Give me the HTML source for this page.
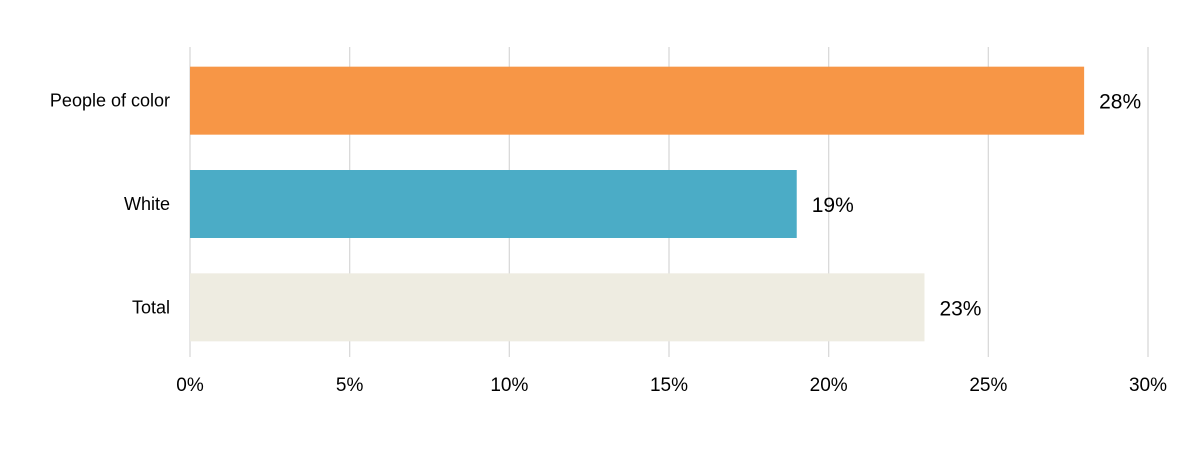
<!DOCTYPE html>
<html><head><meta charset="utf-8"><style>
html,body{margin:0;padding:0;background:#fff;}
svg{display:block;font-family:"Liberation Sans",Arial,sans-serif;}
</style></head><body>
<svg id="chart" width="1200" height="456" viewBox="0 0 1200 456"></svg>
<script>
const categories = ["People of color", "White", "Total"];
const values = [28, 19, 23];
const valueLabels = ["28%", "19%", "23%"];
const colors = ["#F79646", "#4BACC6", "#EEECE1"];
const ticks = [0, 5, 10, 15, 20, 25, 30];
const tickLabels = ["0%", "5%", "10%", "15%", "20%", "25%", "30%"];

const NS = "http://www.w3.org/2000/svg";
const svg = document.getElementById("chart");
const x0 = 190, x1 = 1148, xMax = 30;
const yTop = 47, yBot = 357;
const xs = v => x0 + (v / xMax) * (x1 - x0);
const band = (yBot - yTop) / categories.length;
const barH = 68;
const ys = i => yTop + band * i + (band - barH) / 2 + 2;

function mk(tag, attrs) {
  const e = document.createElementNS(NS, tag);
  for (const k in attrs) e.setAttribute(k, attrs[k]);
  svg.appendChild(e);
  return e;
}

ticks.forEach((t, i) => {
  const g = mk("line", {x1: xs(t), x2: xs(t), y1: yTop, y2: yBot, stroke: "#d9d9d9", "stroke-width": 1.3});
  
  
  const tx = mk("text", {x: xs(t), y: 391, "text-anchor": "middle", "font-size": 19, fill: "#000"});
  tx.textContent = tickLabels[i];
  
  
});

categories.forEach((c, i) => {
  const y = ys(i);
  const r = mk("rect", {x: xs(0), y: y, width: xs(values[i]) - xs(0), height: barH, fill: colors[i]});
  
  
  const lab = mk("text", {x: 170, y: y + barH / 2 + 6, "text-anchor": "end", "font-size": 18, fill: "#000"});
  lab.textContent = c;
  
  
  const vl = mk("text", {x: xs(values[i]) + 15, y: y + barH / 2 + 8, "font-size": 21, fill: "#000"});
  vl.textContent = valueLabels[i];
  
  
});
</script>
</body></html>
